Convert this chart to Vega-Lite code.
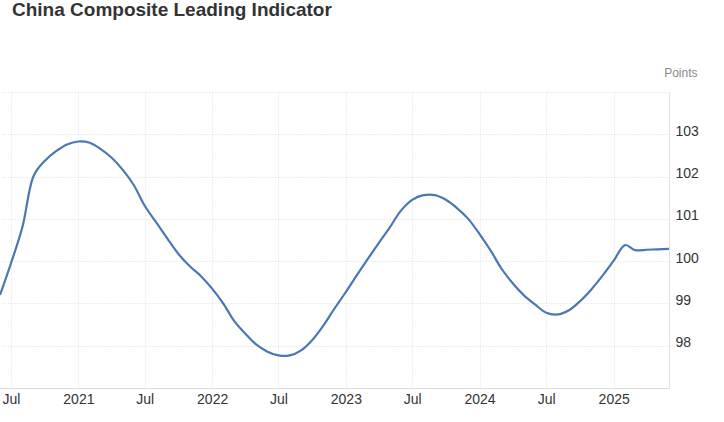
{
  "$schema": "https://vega.github.io/schema/vega-lite/v6.json",
  "autosize": "none",
  "width": 669,
  "height": 296,
  "padding": {"top": 92, "left": 0, "right": 55, "bottom": 34},
  "background": "white",
  "title": {
    "text": "China Composite Leading Indicator",
    "frame": "group",
    "anchor": "start",
    "orient": "top",
    "dx": 12,
    "offset": 0,
    "dy": -31,
    "baseline": "alphabetic",
    "font": "Liberation Sans",
    "fontSize": 19,
    "fontWeight": "bold",
    "color": "#333333"
  },
  "config": {
    "view": {"stroke": null},
    "axis": {"labelFont": "Liberation Sans", "titleFont": "Liberation Sans"}
  },
  "data": {
    "values": [
      {"date": "2020-06-01", "value": 99.2},
      {"date": "2020-07-01", "value": 99.95},
      {"date": "2020-08-01", "value": 100.8},
      {"date": "2020-09-01", "value": 102.02},
      {"date": "2020-10-01", "value": 102.37},
      {"date": "2020-11-01", "value": 102.6},
      {"date": "2020-12-01", "value": 102.76},
      {"date": "2021-01-01", "value": 102.83},
      {"date": "2021-02-01", "value": 102.8},
      {"date": "2021-03-01", "value": 102.66},
      {"date": "2021-04-01", "value": 102.45},
      {"date": "2021-05-01", "value": 102.17},
      {"date": "2021-06-01", "value": 101.8},
      {"date": "2021-07-01", "value": 101.31},
      {"date": "2021-08-01", "value": 100.92},
      {"date": "2021-09-01", "value": 100.53},
      {"date": "2021-10-01", "value": 100.17},
      {"date": "2021-11-01", "value": 99.88},
      {"date": "2021-12-01", "value": 99.65},
      {"date": "2022-01-01", "value": 99.35},
      {"date": "2022-02-01", "value": 98.99},
      {"date": "2022-03-01", "value": 98.6},
      {"date": "2022-04-01", "value": 98.29},
      {"date": "2022-05-01", "value": 98.03},
      {"date": "2022-06-01", "value": 97.86},
      {"date": "2022-07-01", "value": 97.77},
      {"date": "2022-08-01", "value": 97.77},
      {"date": "2022-09-01", "value": 97.89},
      {"date": "2022-10-01", "value": 98.13},
      {"date": "2022-11-01", "value": 98.48},
      {"date": "2022-12-01", "value": 98.88},
      {"date": "2023-01-01", "value": 99.27},
      {"date": "2023-02-01", "value": 99.68},
      {"date": "2023-03-01", "value": 100.04},
      {"date": "2023-04-01", "value": 100.43},
      {"date": "2023-05-01", "value": 100.8},
      {"date": "2023-06-01", "value": 101.2},
      {"date": "2023-07-01", "value": 101.45},
      {"date": "2023-08-01", "value": 101.56},
      {"date": "2023-09-01", "value": 101.56},
      {"date": "2023-10-01", "value": 101.45},
      {"date": "2023-11-01", "value": 101.25},
      {"date": "2023-12-01", "value": 101.0},
      {"date": "2024-01-01", "value": 100.64},
      {"date": "2024-02-01", "value": 100.24},
      {"date": "2024-03-01", "value": 99.82},
      {"date": "2024-04-01", "value": 99.47},
      {"date": "2024-05-01", "value": 99.19},
      {"date": "2024-06-01", "value": 98.97},
      {"date": "2024-07-01", "value": 98.78},
      {"date": "2024-08-01", "value": 98.74},
      {"date": "2024-09-01", "value": 98.84},
      {"date": "2024-10-01", "value": 99.05},
      {"date": "2024-11-01", "value": 99.33},
      {"date": "2024-12-01", "value": 99.65},
      {"date": "2025-01-01", "value": 100.01},
      {"date": "2025-02-01", "value": 100.38},
      {"date": "2025-03-01", "value": 100.26},
      {"date": "2025-04-01", "value": 100.27},
      {"date": "2025-05-01", "value": 100.28},
      {"date": "2025-06-01", "value": 100.29}
    ]
  },
  "mark": {"type": "line", "color": "#4a78b2", "strokeWidth": 2.2, "interpolate": "catmull-rom"},
  "encoding": {
    "x": {
      "field": "date",
      "type": "temporal",
      "scale": {"type": "utc", "domain": [{"year": 2020, "month": 6, "date": 1, "utc": true}, {"year": 2025, "month": 6, "date": 1, "utc": true}]},
      "axis": {
        "title": null,
        "values": [
          {"year": 2020, "month": 7, "date": 1, "utc": true},
          {"year": 2021, "month": 1, "date": 1, "utc": true},
          {"year": 2021, "month": 7, "date": 1, "utc": true},
          {"year": 2022, "month": 1, "date": 1, "utc": true},
          {"year": 2022, "month": 7, "date": 1, "utc": true},
          {"year": 2023, "month": 1, "date": 1, "utc": true},
          {"year": 2023, "month": 7, "date": 1, "utc": true},
          {"year": 2024, "month": 1, "date": 1, "utc": true},
          {"year": 2024, "month": 7, "date": 1, "utc": true},
          {"year": 2025, "month": 1, "date": 1, "utc": true}
        ],
        "labelExpr": "utcFormat(datum.value, '%m') == '01' ? utcFormat(datum.value, '%Y') : 'Jul'",
        "labelFont": "Liberation Sans",
        "labelFontSize": 14,
        "labelColor": "#333333",
        "labelPadding": 4,
        "labelAlign": "center",
        "labelBaseline": "top",
        "ticks": false,
        "grid": true,
        "gridColor": "#dcdcdc",
        "gridDash": [1, 2],
        "gridWidth": 1,
        "domain": true,
        "domainColor": "#dddddd",
        "domainWidth": 1
      }
    },
    "y": {
      "field": "value",
      "type": "quantitative",
      "scale": {"domain": [97, 104], "zero": false, "nice": false},
      "axis": {
        "orient": "right",
        "values": [97, 98, 99, 100, 101, 102, 103, 104],
        "labelExpr": "datum.value >= 98 && datum.value <= 103 ? datum.label : ''",
        "labelFontSize": 14,
        "labelColor": "#333333",
        "labelPadding": 6,
        "labelOffset": -3,
        "labelAlign": "left",
        "ticks": false,
        "grid": true,
        "gridColor": "#dcdcdc",
        "gridDash": [1, 2],
        "gridWidth": 1,
        "domain": true,
        "domainColor": "#e2e2e2",
        "domainWidth": 1,
        "title": "Points",
        "titleAngle": 0,
        "titleAlign": "right",
        "titleBaseline": "alphabetic",
        "titleX": 28,
        "titleY": -16,
        "titleFontSize": 12,
        "titleFontWeight": "normal",
        "titleColor": "#888888"
      }
    }
  }
}
